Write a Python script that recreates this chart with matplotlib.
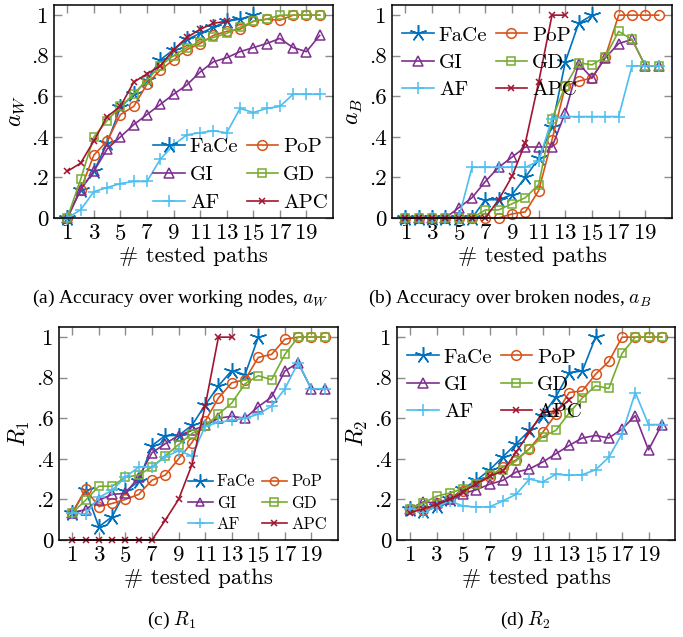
import matplotlib
matplotlib.use('Agg')
import matplotlib.pyplot as plt

plt.rcParams['font.family'] = ['cmr10', 'DejaVu Serif']
plt.rcParams['mathtext.fontset'] = 'cm'
plt.rcParams['axes.formatter.use_mathtext'] = True

# data
methods = ['FaCe', 'PoP', 'GI', 'GD', 'AF', 'APC']
colors = ['#0072BD', '#D95319', '#7E2F8E', '#77AC30', '#4DBEEE', '#A2142F']
markers = [(5, 2, 0), 'o', '^', 's', '+', 'x']
msizes = [12, 7, 6.5, 6, 8, 4.5]

xticks = [1, 3, 5, 7, 9, 11, 13, 15, 17, 19]
yticks = [0, 0.2, 0.4, 0.6, 0.8, 1.0]
ytick_labels = ['0', '.2', '.4', '.6', '.8', '1']

aw_face = [0, 0.14, 0.23, 0.37, 0.545, 0.61, 0.68, 0.78, 0.83, 0.88, 0.91, 0.94, 0.97, 0.98, 1.0]
aw_pop = [0, 0.14, 0.31, 0.38, 0.51, 0.55, 0.66, 0.73, 0.78, 0.83, 0.86, 0.90, 0.92, 0.93, 0.97, 0.98, 0.975, 1, 1, 1]
aw_gi = [0, 0.14, 0.23, 0.34, 0.40, 0.46, 0.51, 0.56, 0.61, 0.656, 0.72, 0.77, 0.79, 0.82, 0.84, 0.86, 0.885, 0.84, 0.82, 0.90]
aw_gd = [0, 0.19, 0.40, 0.48, 0.55, 0.61, 0.68, 0.75, 0.80, 0.84, 0.87, 0.89, 0.91, 0.94, 0.97, 0.98, 1, 1, 1, 1]
aw_af = [0, 0.04, 0.13, 0.15, 0.17, 0.18, 0.18, 0.29, 0.36, 0.41, 0.42, 0.43, 0.42, 0.54, 0.52, 0.54, 0.55, 0.61, 0.61, 0.61]
aw_apc = [0.23, 0.27, 0.38, 0.50, 0.55, 0.67, 0.71, 0.75, 0.83, 0.89, 0.93, 0.96, 0.97]

ab_face = [0, 0, 0, 0, 0, 0, 0.09, 0.09, 0.115, 0.20, 0.295, 0.45, 0.77, 0.96, 1.0]
ab_pop = [0, 0, 0, 0, 0, 0, 0, 0, 0.02, 0.03, 0.135, 0.385, 0.65, 0.675, 0.69, 0.795, 1, 1, 1, 1]
ab_gi = [0, 0, 0, 0, 0.05, 0.10, 0.18, 0.25, 0.30, 0.35, 0.35, 0.35, 0.52, 0.76, 0.69, 0.79, 0.86, 0.88, 0.75, 0.75]
ab_gd = [0, 0, 0, 0, 0, 0, 0.04, 0.04, 0.07, 0.10, 0.165, 0.49, 0.65, 0.765, 0.755, 0.795, 0.92, 0.88, 0.75, 0.75]
ab_af = [0, 0, 0, 0, 0, 0.25, 0.25, 0.25, 0.25, 0.25, 0.28, 0.49, 0.5, 0.5, 0.5, 0.5, 0.5, 0.75, 0.75, 0.75]
ab_apc = [0, 0, 0, 0, 0, 0, 0, 0.09, 0.205, 0.37, 0.67, 1.0, 1.0]

r1_face = [0.134, 0.245, 0.065, 0.115, 0.24, 0.29, 0.465, 0.515, 0.515, 0.565, 0.665, 0.76, 0.835, 0.815, 1.0]
r1_pop = [0.134, 0.25, 0.165, 0.18, 0.20, 0.225, 0.295, 0.32, 0.40, 0.48, 0.585, 0.70, 0.775, 0.79, 0.90, 0.915, 0.99, 1, 1, 1]
r1_gi = [0.134, 0.15, 0.196, 0.225, 0.23, 0.31, 0.43, 0.475, 0.515, 0.54, 0.565, 0.60, 0.61, 0.60, 0.657, 0.705, 0.833, 0.874, 0.743, 0.743]
r1_gd = [0.134, 0.196, 0.265, 0.265, 0.31, 0.32, 0.36, 0.415, 0.47, 0.525, 0.56, 0.62, 0.675, 0.77, 0.81, 0.79, 0.915, 1, 1, 1]
r1_af = [0.134, 0.127, 0.21, 0.245, 0.31, 0.36, 0.36, 0.41, 0.44, 0.415, 0.56, 0.58, 0.59, 0.60, 0.62, 0.66, 0.745, 0.875, 0.745, 0.745]
r1_apc = [0, 0, 0, 0, 0, 0, 0, 0.098, 0.20, 0.37, 0.66, 1.0, 1.0]

r2_face = [0.155, 0.144, 0.17, 0.20, 0.253, 0.294, 0.346, 0.41, 0.474, 0.54, 0.613, 0.706, 0.825, 0.833, 1.0]
r2_pop = [0.155, 0.147, 0.18, 0.204, 0.242, 0.275, 0.31, 0.36, 0.395, 0.45, 0.53, 0.62, 0.727, 0.735, 0.817, 0.88, 1, 1, 1, 1]
r2_gi = [0.155, 0.188, 0.183, 0.204, 0.229, 0.248, 0.275, 0.294, 0.335, 0.35, 0.384, 0.425, 0.466, 0.503, 0.515, 0.503, 0.547, 0.613, 0.444, 0.569]
r2_gd = [0.155, 0.183, 0.216, 0.232, 0.253, 0.278, 0.32, 0.346, 0.39, 0.45, 0.51, 0.54, 0.626, 0.70, 0.76, 0.747, 0.92, 1, 1, 1]
r2_af = [0.155, 0.14, 0.163, 0.193, 0.167, 0.163, 0.163, 0.193, 0.225, 0.30, 0.286, 0.324, 0.319, 0.322, 0.346, 0.408, 0.523, 0.727, 0.569, 0.569]
r2_apc = [0.134, 0.155, 0.175, 0.20, 0.237, 0.278, 0.314, 0.34, 0.433, 0.53, 0.63, 0.635, 0.69]

W, H = 683, 637
fig = plt.figure(figsize=(W / 100, H / 100), dpi=100)


def panel(rect, series, ylabel, caption, cap_x, leg_loc, leg_anchor, leg_fs, leg_sp, leg_scale):
    l, t, r, b = rect
    ax = fig.add_axes([l / W, 1 - b / H, (r - l) / W, (b - t) / H])
    lines = []
    for vals, c, m, ms in zip(series, colors, markers, msizes):
        xs = list(range(1, len(vals) + 1))
        ln, = ax.plot(xs, vals, color=c, marker=m, ms=ms, mfc='none', mew=1.1, lw=1.2,
                      clip_on=False)
        lines.append(ln)
    ax.set_xlim(0, 21)
    ax.set_ylim(0, 1.05)
    ax.set_xticks(xticks)
    ax.set_yticks(yticks)
    ax.set_yticklabels(ytick_labels)
    ax.tick_params(direction='in', top=True, right=True, length=5.5, width=1,
                   color='#8c8c8c', labelsize=16.5, pad=4)
    for s in ax.spines.values():
        s.set_linewidth(1.1)
    ax.set_xlabel('# tested paths', fontsize=16.5, labelpad=2)
    ax.set_ylabel(ylabel, fontsize=17, labelpad=3)
    order = [0, 2, 4, 1, 3, 5]
    ax.legend([lines[i] for i in order], [methods[i] for i in order], ncol=2,
              loc=leg_loc, bbox_to_anchor=leg_anchor, frameon=False, fontsize=leg_fs,
              handlelength=1.5, handletextpad=0.25, columnspacing=0.4,
              labelspacing=leg_sp, borderaxespad=0.1, markerscale=leg_scale)
    fig.text(cap_x / W, 1 - (b + 80) / H, caption, ha='center', va='center',
             fontsize=14, family='Liberation Serif')
    return ax


panel((54, 5, 333, 218), [aw_face, aw_pop, aw_gi, aw_gd, aw_af, aw_apc], '$a_W$',
      '(a) Accuracy over working nodes, $a_W$', 181, 'lower right', (1.02, -0.02),
      15, 0.45, 1.0)
panel((392, 5, 672, 218), [ab_face, ab_pop, ab_gi, ab_gd, ab_af, ab_apc], '$a_B$',
      '(b) Accuracy over broken nodes, $a_B$', 510, 'upper left', (0.0, 0.95),
      15, 0.42, 1.0)
panel((59, 327, 338, 540), [r1_face, r1_pop, r1_gi, r1_gd, r1_af, r1_apc], '$R_1$',
      '(c) $R_1$', 172, 'lower right', (0.99, 0.0), 12, 0.35, 0.85)
panel((397, 327, 675, 540), [r2_face, r2_pop, r2_gi, r2_gd, r2_af, r2_apc], '$R_2$',
      '(d) $R_2$', 525, 'upper left', (0.0, 0.95), 15, 0.42, 1.0)

fig.savefig('out.png', dpi=100)
